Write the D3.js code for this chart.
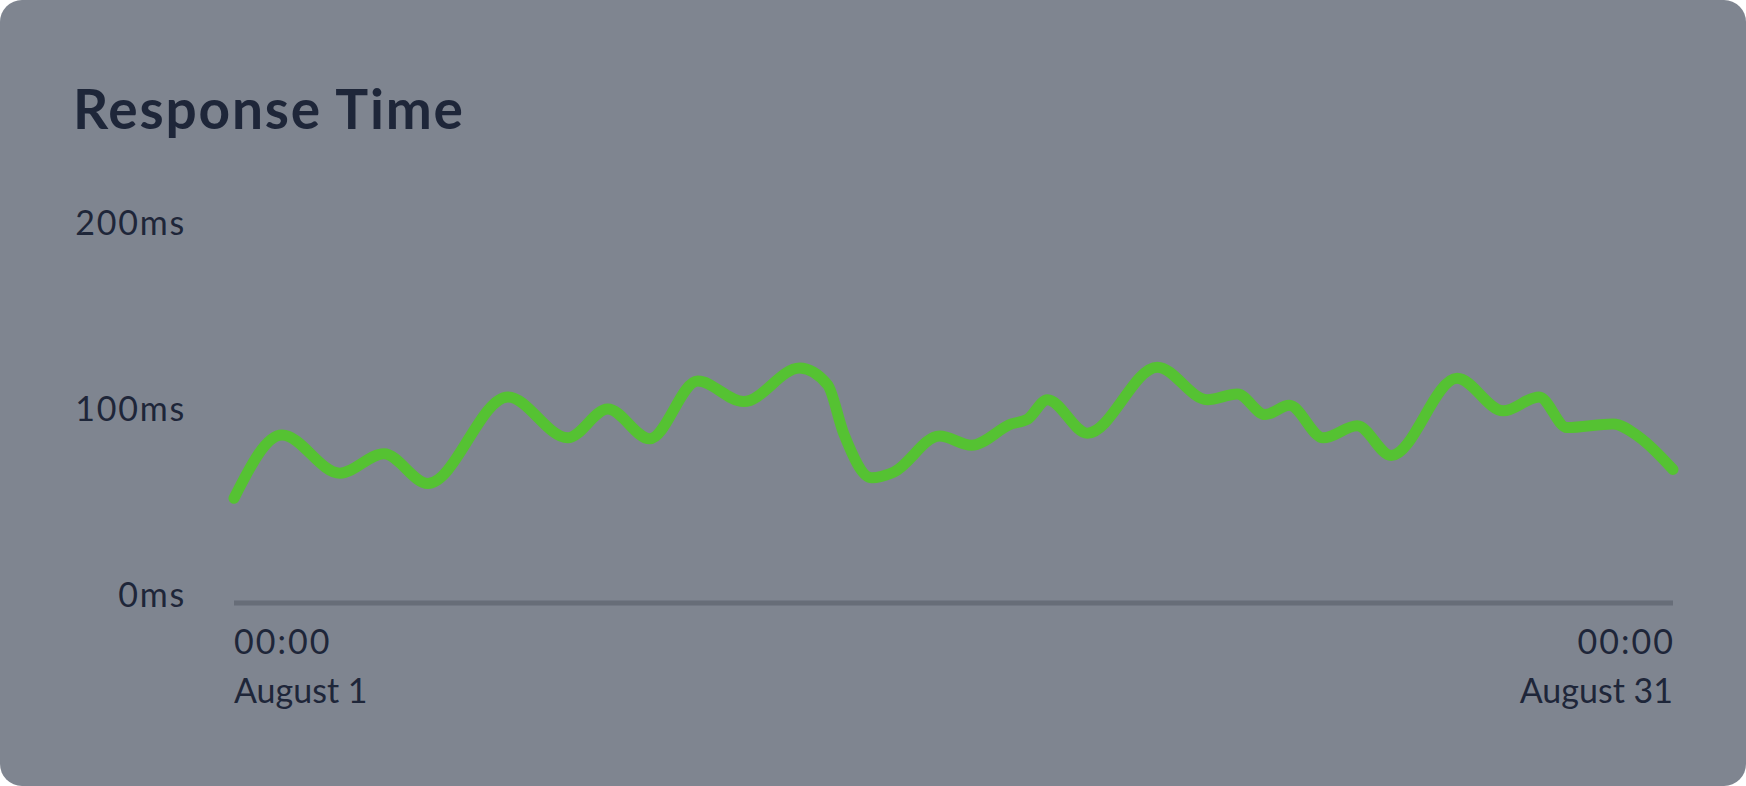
<!DOCTYPE html>
<html>
<head>
<meta charset="utf-8">
<script src="https://cdn.jsdelivr.net/npm/d3@7"></script>
<style>
  html, body { margin: 0; padding: 0; background: #fff; overflow: hidden; }
  svg { display: block; }
</style>
</head>
<body>
<svg width="1746" height="786"></svg>
<script>
// hours since Aug 1 00:00 and response time (ms) at each sample
var hours = [0, 24, 53, 75, 97, 137, 167, 187, 208, 232, 255, 283, 297, 305, 319, 330, 353, 369, 389, 397,
             407, 427, 462, 487, 502, 516, 528, 545, 562, 579, 612, 635, 653, 667, 690, 703, 720];
var responseMs = [52, 86, 65.5, 76, 60, 106.5, 84.5, 100, 84, 115, 104, 122, 113, 87, 63, 66, 85.5, 80.5, 92, 94.5,
                  105, 87, 122.5, 105, 108, 97, 102, 84.5, 91, 75, 116.5, 99, 106.5, 90, 92, 85, 67.5];
var yTicks = [0, 100, 200];
var xTicks = [["00:00", "August 1"], ["00:00", "August 31"]];

var start = new Date(2023, 7, 1), end = new Date(2023, 7, 31);

var svg = d3.select("svg")
    , width = +svg.attr("width")
    , height = +svg.attr("height");

svg.append("rect").attr("width", width).attr("height", height)
    .attr("rx", 22).attr("fill", "#7f8590");

svg.append("text").attr("x", 73).attr("y", 129)
    .attr("font-family", "Lato").attr("font-weight", 700).attr("font-size", 55)
    .attr("letter-spacing", 1.8)
    .attr("fill", "#1e2639").text("Response Time");

var x = d3.scaleTime().domain([start, end]).range([234, 1673]);
var y = d3.scaleLinear().domain([0, 200]).range([595, 223]);

var data = hours.map(function (h, i) {
    return { t: d3.timeHour.offset(start, h), v: responseMs[i] };
});

// y labels
svg.append("g").selectAll("text").data(yTicks).enter().append("text")
    .attr("x", 186).attr("y", function (d) { return y(d); }).attr("dy", "0.36em")
    .attr("text-anchor", "end").attr("letter-spacing", 1.8)
    .attr("font-family", "Lato").attr("font-size", 34).attr("fill", "#1e2639")
    .text(function (d) { return d + "ms"; });

// baseline
svg.append("line").attr("x1", x(start)).attr("x2", x(end))
    .attr("y1", y(0) + 8).attr("y2", y(0) + 8)
    .attr("stroke", "#676d78").attr("stroke-width", 5);

// x labels
var xl = svg.append("g").selectAll("text").data([start, end]).enter().append("text")
    .attr("text-anchor", function (d, i) { return i ? "end" : "start"; })
    .attr("font-family", "Lato").attr("font-size", 34).attr("fill", "#1e2639");
xl.append("tspan").attr("x", function (d, i) { return x(d) + (i ? 2 : 0); }).attr("y", 654)
    .attr("letter-spacing", 2)
    .text(function (d, i) { return xTicks[i][0]; });
xl.append("tspan").attr("x", function (d) { return x(d); }).attr("y", 703)
    .text(function (d, i) { return xTicks[i][1]; });

var line = d3.line().curve(d3.curveMonotoneX)
    .x(function (d) { return x(d.t); })
    .y(function (d) { return y(d.v); });

svg.append("path").datum(data).attr("d", line)
    .attr("fill", "none").attr("stroke", "#55c232").attr("stroke-width", 11)
    .attr("stroke-linecap", "round").attr("stroke-linejoin", "round");
</script>
</body>
</html>
